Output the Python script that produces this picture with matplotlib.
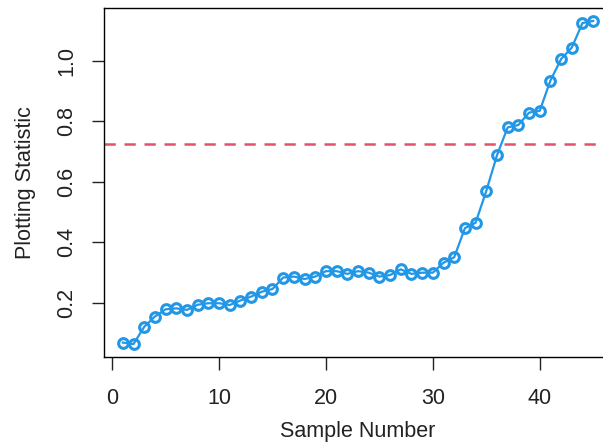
import matplotlib
matplotlib.use("Agg")
from matplotlib import pyplot as plt
import numpy as np

plt.rcParams['font.family'] = ['Liberation Sans', 'DejaVu Sans']

sample = np.arange(1, 46)
stat = [0.069, 0.064, 0.121, 0.155, 0.179, 0.182, 0.177, 0.194, 0.199, 0.199,
        0.193, 0.208, 0.221, 0.237, 0.246, 0.284, 0.287, 0.279, 0.287, 0.305,
        0.305, 0.296, 0.305, 0.300, 0.287, 0.292, 0.311, 0.296, 0.300, 0.300,
        0.333, 0.351, 0.447, 0.465, 0.570, 0.688, 0.780, 0.788, 0.829, 0.835,
        0.935, 1.006, 1.044, 1.125, 1.132]
limit = 0.726

blue = "#2297E6"
red = "#DF536B"

fig = plt.figure(figsize=(6.03, 4.43), dpi=100)
# plot box runs past the right edge, like the cropped original
ax = fig.add_axes([104/603, 86/443, 508/603, 349/443])

ax.plot(sample, stat, color=blue, lw=1.6, marker='o', ms=7,
        mfc='none', mec=blue, mew=2.2)
ax.axhline(limit, color=red, lw=1.8, ls=(0, (4.5, 3.5)))

lo, hi = min(stat), max(stat)
pad = (hi - lo) * 0.04
ax.set_ylim(lo - pad, hi + pad)
ax.set_xlim(1 - 44 * 0.04, 45 + 44 * 0.04)

ax.set_xticks([0, 10, 20, 30, 40])
ax.set_yticks([0.2, 0.4, 0.6, 0.8, 1.0])
ax.set_yticklabels(["0.2", "0.4", "0.6", "0.8", "1.0"], rotation=90, va='center')

for s in ax.spines.values():
    s.set_linewidth(1.0)
ax.tick_params(length=9, width=1.0, labelsize=15.5, colors='#222222')
ax.tick_params(axis='x', pad=13)
ax.tick_params(axis='y', pad=10)

ax.set_xlabel("Sample Number", fontsize=15.5, labelpad=9, color='#222222')
ax.set_ylabel("Plotting Statistic", fontsize=15.5, labelpad=15, color='#222222')

fig.savefig("out.png", dpi=100)
